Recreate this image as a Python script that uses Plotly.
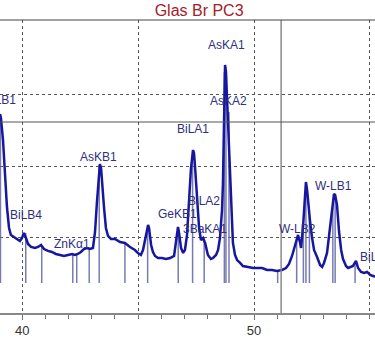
import plotly.graph_objects as go

# Spectrum (position vs. intensity)
energy = [39.04, 39.08, 39.17, 39.25, 39.34, 39.43, 39.51, 39.64, 39.77, 39.90, 39.99,
          40.07, 40.16, 40.25, 40.38, 40.55, 40.68, 40.81, 40.94, 41.11, 41.28, 41.45,
          41.63, 41.80, 41.97, 42.15, 42.27, 42.40, 42.53, 42.66, 42.79, 42.92, 43.05,
          43.14, 43.22, 43.31, 43.35, 43.40, 43.44, 43.53, 43.61, 43.70, 43.83, 44.00,
          44.22, 44.43, 44.65, 44.86, 44.99, 45.12, 45.21, 45.30, 45.38, 45.43, 45.47,
          45.56, 45.64, 45.73, 45.86, 46.03, 46.20, 46.38, 46.55, 46.63, 46.72, 46.76,
          46.85, 46.94, 47.02, 47.11, 47.19, 47.28, 47.37, 47.41, 47.45, 47.54, 47.63,
          47.71, 47.80, 47.89, 48.01, 48.14, 48.23, 48.36, 48.45, 48.53, 48.62, 48.66,
          48.71, 48.75, 48.79, 48.83, 48.88, 48.92, 49.01, 49.09, 49.18, 49.27, 49.40,
          49.52, 49.74, 49.96, 50.17, 50.35, 50.56, 50.78, 50.99, 51.21, 51.38, 51.51,
          51.64, 51.77, 51.86, 51.90, 51.99, 52.03, 52.12, 52.20, 52.24, 52.29, 52.33,
          52.42, 52.50, 52.59, 52.72, 52.85, 52.94, 53.02, 53.15, 53.28, 53.37, 53.45,
          53.50, 53.58, 53.67, 53.76, 53.84, 53.97, 54.06, 54.19, 54.27, 54.40, 54.49,
          54.62, 54.75, 54.88, 55.01, 55.14, 55.22]
counts = [2722, 2667, 2361, 1903, 1431, 1139, 1042, 1014, 986, 958, 1000,
          1070, 1000, 917, 875, 861, 875, 903, 847, 820, 806, 778,
          764, 750, 764, 778, 764, 778, 806, 847, 861, 847, 861,
          1083, 1486, 1917, 2028, 1972, 1778, 1417, 1139, 1028, 986, 986,
          944, 931, 875, 833, 792, 764, 833, 972, 1139, 1181, 1139,
          903, 806, 750, 722, 722, 708, 722, 750, 972, 1153, 1083,
          861, 792, 833, 1042, 1458, 1972, 2222, 2181, 2014, 1528, 1139,
          972, 1000, 931, 764, 708, 722, 764, 833, 1000, 1389, 1764,
          2639, 3403, 3306, 2986, 2681, 2222, 1528, 931, 764, 694, 653,
          611, 597, 583, 583, 583, 556, 556, 542, 556, 583, 639,
          750, 903, 1014, 1042, 931, 861, 1181, 1667, 1778, 1667, 1486,
          1222, 1014, 833, 736, 625, 597, 653, 792, 1139, 1389, 1611,
          1597, 1458, 1083, 833, 708, 611, 583, 597, 611, 681, 583,
          528, 514, 528, 486, 472, 458]

# Element line markers: position and height
line_pos = [39.06, 40.15, 40.84, 42.18, 42.35, 42.89, 43.32, 44.43, 45.41, 46.73,
            47.35, 47.85, 48.72, 48.79, 48.92, 51.02, 51.84, 52.13, 52.24, 52.39,
            53.40, 53.50, 54.36]
line_top = [2722, 1070, 903, 778, 764, 847, 2014, 931, 1167, 1139,
            2222, 1000, 3300, 3250, 2750, 542, 1014, 1181, 1778, 1320,
            1458, 1597, 667]
line_base = 375

# Peak labels
label_text = ["BiLB1", "AsKA1", "AsKA2", "BiLA1", "AsKB1", "BiLB4", "GeKB1",
              "BiLA2", "3BaKA1", "ZnKα1", "W-LB2", "W-LB1", "BiLG1"]
label_x = [39.83, 48.80, 48.92, 47.35, 43.31, 40.16, 46.70,
           47.84, 47.88, 42.15, 51.86, 53.45, 54.50]
label_y = [2917, 3681, 2903, 2514, 2125, 1320, 1333,
           1514, 1125, 917, 1125, 1722, 736]
label_anchor = ["right", "center", "center", "center", "center", "center", "center",
                "center", "center", "center", "center", "center", "left"]

cursor_x = 51.17
cursor_y = 2611

x_range = [39.04, 55.22]
y_range = [-42, 4028]
grid_x = [40, 45, 50, 55]
grid_x_text = ["40", "", "50", ""]
minor_x = list(range(39, 56))
grid_y = [1000, 2000, 3000]

fig = go.Figure()

mx, my = [], []
for p, t in zip(line_pos, line_top):
    mx += [p, p, None]
    my += [line_base, t, None]
fig.add_trace(go.Scatter(x=mx, y=my, mode="lines",
                         line=dict(color="rgba(95,100,165,0.85)", width=1.5),
                         hoverinfo="skip", showlegend=False))

fig.add_trace(go.Scatter(x=energy, y=counts, mode="lines",
                         line=dict(color="#16169e", width=2.5),
                         showlegend=False))

for t, x, y, a in zip(label_text, label_x, label_y, label_anchor):
    fig.add_annotation(x=x, y=y, text=t, showarrow=False, xanchor=a, yanchor="middle",
                       font=dict(family="Liberation Sans, Arial", size=12, color="#2e3080"))

# cursor lines and top frame
fig.add_shape(type="line", xref="x", yref="paper", x0=cursor_x, x1=cursor_x, y0=0, y1=1,
              line=dict(color="#8a8a8a", width=1.5))
fig.add_shape(type="line", xref="paper", yref="y", x0=0, x1=1, y0=cursor_y, y1=cursor_y,
              line=dict(color="#555555", width=1))
fig.add_shape(type="line", xref="paper", yref="paper", x0=0, x1=1, y0=1, y1=1,
              line=dict(color="#444444", width=1.2))

fig.update_layout(
    width=375, height=345,
    margin=dict(l=0, r=0, t=20, b=32),
    paper_bgcolor="white", plot_bgcolor="white",
    title=dict(text="Glas Br PC3", x=0.531, xanchor="center", xref="paper",
               y=0.971, yref="container", yanchor="middle",
               font=dict(family="Liberation Sans, Arial", size=16, color="#a3202b")),
    xaxis=dict(range=x_range, tickmode="array", tickvals=grid_x, ticktext=grid_x_text,
               showgrid=True, gridcolor="#555555", griddash="dot", gridwidth=1,
               showline=True, linecolor="#888888", linewidth=1.5,
               ticks="outside", ticklen=5, tickcolor="#777777", tickwidth=1,
               tickfont=dict(family="Liberation Sans, Arial", size=13, color="#333333"),
               minor=dict(tickmode="array", tickvals=minor_x, ticks="outside", ticklen=4,
                          tickcolor="#777777", showgrid=False),
               zeroline=False),
    yaxis=dict(range=y_range, tickmode="array", tickvals=grid_y, showticklabels=False,
               showgrid=True, gridcolor="#555555", griddash="dot", gridwidth=1,
               zeroline=False, showline=False, ticks=""),
)

fig.write_html("out.html")
